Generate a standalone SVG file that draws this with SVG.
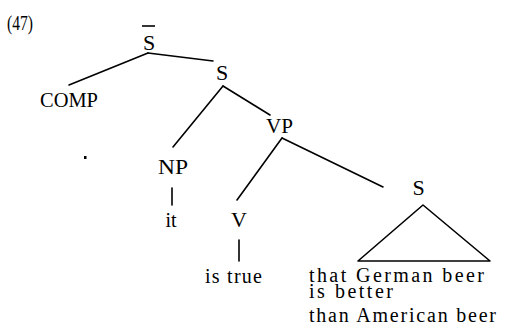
<svg xmlns="http://www.w3.org/2000/svg" width="506" height="330" viewBox="0 0 506 330">
<style>
.lbl{font-family:"Liberation Serif","Times New Roman",serif;font-size:22px;fill:#000}
.leaf{font-family:"Liberation Serif","Times New Roman",serif;font-size:20px;fill:#000}
.edge{stroke:#000;stroke-width:1.6;fill:none;stroke-linecap:round}
</style>
<rect width="506" height="330" fill="#fff"/>
<text class="lbl" x="7" y="30" textLength="26" lengthAdjust="spacingAndGlyphs">(47)</text>
<g id="connectors">
<line class="edge" x1="148" y1="53" x2="69" y2="85"/>
<line class="edge" x1="148" y1="53" x2="213" y2="61"/>
<line class="edge" x1="223" y1="86" x2="173" y2="147"/>
<line class="edge" x1="223" y1="86" x2="270" y2="115"/>
<line class="edge" x1="282" y1="138" x2="237" y2="200"/>
<line class="edge" x1="282" y1="138" x2="383" y2="187"/>
<line class="edge" x1="172" y1="188" x2="172" y2="205"/>
<line class="edge" x1="239" y1="240" x2="239" y2="261"/>
</g>
<g id="Sbar">
<text class="lbl" x="149" y="50" text-anchor="middle">S</text>
<line x1="142" y1="26" x2="155" y2="26" stroke="#000" stroke-width="1.6"/>
</g>
<g id="COMP"><text class="lbl" x="40" y="107" textLength="58" lengthAdjust="spacingAndGlyphs">COMP</text></g>
<g id="S1"><text class="lbl" x="222" y="80" text-anchor="middle">S</text></g>
<g id="VP"><text class="lbl" x="266" y="133" textLength="27" lengthAdjust="spacingAndGlyphs">VP</text></g>
<g id="NP"><text class="lbl" x="158" y="174" textLength="30" lengthAdjust="spacingAndGlyphs">NP</text></g>
<g id="it"><text class="leaf" x="171" y="227" text-anchor="middle">it</text></g>
<g id="V"><text class="lbl" x="239" y="227" text-anchor="middle">V</text></g>
<g id="istrue"><text class="leaf" x="205" y="283" textLength="57" lengthAdjust="spacing">is true</text></g>
<g id="S2">
<text class="lbl" x="418.5" y="195" text-anchor="middle">S</text>
<polygon points="423,205 358,261 490,261" fill="none" stroke="#000" stroke-width="1.6" stroke-linejoin="round"/>
</g>
<g id="clause">
<text class="leaf" x="309" y="282" textLength="175" lengthAdjust="spacing">that German beer</text>
<text class="leaf" x="309" y="298" textLength="84" lengthAdjust="spacing">is better</text>
<text class="leaf" x="309" y="322" textLength="187" lengthAdjust="spacing">than American beer</text>
</g>
<rect x="84" y="156" width="2.5" height="3" fill="#000"/>
</svg>
